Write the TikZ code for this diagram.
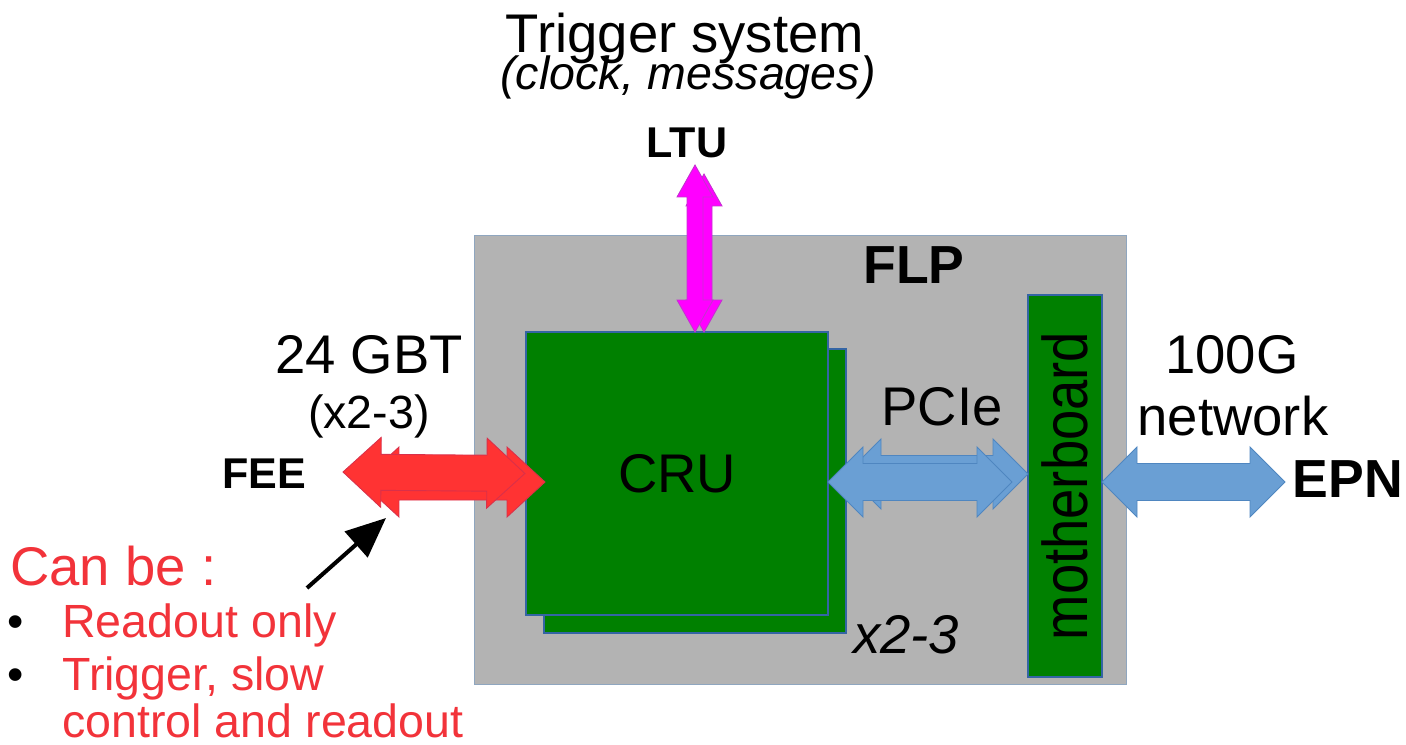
\documentclass[tikz,border=0pt]{standalone}
\usepackage{fontspec}
\setmainfont{Liberation Sans}
\usepackage{graphicx}
\usetikzlibrary{calc,arrows.meta}
\definecolor{flpgray}{HTML}{B3B3B3}
\definecolor{flpline}{HTML}{8FA6BF}
\definecolor{boardgreen}{HTML}{008000}
\definecolor{boardline}{HTML}{3465A4}
\definecolor{gbtred}{HTML}{FF3333}
\definecolor{gbtredline}{HTML}{D9304A}
\definecolor{pcieblue}{HTML}{6A9FD4}
\definecolor{pciebluel}{HTML}{4F86C0}
\definecolor{ltupink}{HTML}{FF00FF}
\definecolor{ltupinkl}{HTML}{C433D0}
\definecolor{notered}{HTML}{F2333A}
\begin{document}
\begin{tikzpicture}[
  x=0.02cm, y=-0.02cm,
  big/.style={font=\fontsize{31}{36}\selectfont, inner sep=0pt},
  bigbold/.style={font=\bfseries\fontsize{30.5}{36}\selectfont, inner sep=0pt},
  mid/.style={font=\fontsize{26.5}{31}\selectfont, inner sep=0pt},
  tag/.style={font=\bfseries\fontsize{24.5}{29}\selectfont, inner sep=0pt},
  board/.style={draw=boardline, line width=1.3pt, fill=boardgreen, inner sep=0pt},
  fat/.style args={#1/#2/#3}{to path={
    -- ($(\tikztostart)!#3!(\tikztotarget)!#2!90:(\tikztotarget)$)
    -- ($(\tikztostart)!#3!(\tikztotarget)!#1!90:(\tikztotarget)$)
    -- ($(\tikztotarget)!#3!(\tikztostart)!#1!-90:(\tikztostart)$)
    -- ($(\tikztotarget)!#3!(\tikztostart)!#2!-90:(\tikztostart)$)
    -- (\tikztotarget)
    -- ($(\tikztotarget)!#3!(\tikztostart)!#2!90:(\tikztostart)$)
    -- ($(\tikztotarget)!#3!(\tikztostart)!#1!90:(\tikztostart)$)
    -- ($(\tikztostart)!#3!(\tikztotarget)!#1!-90:(\tikztotarget)$)
    -- ($(\tikztostart)!#3!(\tikztotarget)!#2!-90:(\tikztotarget)$)
    -- cycle}},
  redarrow/.style={fat=0.36cm/0.7cm/0.76cm, fill=gbtred, draw=gbtredline, line width=0.5pt},
  bluearrow/.style={fat=0.37cm/0.7cm/0.7cm, fill=pcieblue, draw=pciebluel, line width=0.5pt},
  pinkarrow/.style={fat=0.16cm/0.36cm/0.64cm, fill=ltupink, draw=ltupinkl, line width=0.5pt}
]
\useasboundingbox (0,0) rectangle (1406,744);

\node[draw=flpline, line width=0.6pt, fill=flpgray, minimum width=13.06cm, minimum height=9cm] (flp) at (800.5,460) {};
\node[bigbold, anchor=base] (flplabel) at (914,283) {FLP};
\node[board, minimum width=6.04cm, minimum height=5.68cm] (cruback) at (695,491) {};
\node[board, big, minimum width=6.04cm, minimum height=5.66cm] (cru) at (677,473.5) {CRU};
\node[board, minimum width=1.48cm, minimum height=7.64cm] (mb) at (1065,486) {};
\node[rotate=90, anchor=base, inner sep=0pt, font=\fontsize{36}{40}\selectfont] (mblabel) at (1087,486) {\scalebox{0.86}[1]{motherboard}};
\node[big, anchor=base] (mult) at (906,653) {\itshape x2-3};

\node[big, anchor=base] (trig) at (685,52) {Trigger system};
\node[mid, anchor=base] (clock) at (688,89) {\itshape (clock, messages)};
\node[tag, anchor=base] (ltu) at (687,157) {LTU};
\node[big, anchor=base] (gbt) at (369,373) {24 GBT};
\node[mid, anchor=base] (gbtmult) at (369,428) {(x2-3)};
\node[tag, anchor=base] (fee) at (264,488) {FEE};
\node[big, anchor=base] (pcie) at (942,425) {PCIe};
\node[big, anchor=base] (net) at (1232,373) {100G};
\node[big, anchor=base] (net2) at (1233,435) {network};
\node[bigbold, anchor=base] (epn) at (1348,497) {EPN};

\coordinate (ltuback) at (704,174);
\coordinate (cruback top) at (704,332);
\coordinate (ltufront) at (695,165);
\coordinate (cru top) at (695,332);
\draw[pinkarrow] (ltuback) to (cruback top);
\draw[pinkarrow] (ltufront) to (cru top);

\coordinate (feeback) at (361,482);
\coordinate (cruback in) at (545,482);
\coordinate (feefront) at (343,472);
\draw[redarrow] (feeback) to (cruback in);
\draw[redarrow] (feefront) to (cru.west);

\coordinate (pcieback) at (846,474);
\coordinate (mb in) at (1028,474);
\coordinate (pciefront) at (828,482);
\coordinate (pcieend) at (1012,482);
\draw[bluearrow] (pcieback) to (mb in);
\draw[bluearrow] (pciefront) to (pcieend);

\coordinate (mb out) at (1102,482);
\coordinate (epnend) at (1285,482);
\draw[bluearrow] (mb out) to (epnend);

\node[big, text=notered, anchor=base west] (canbe) at (10,585) {Can be :};
\node[mid, anchor=base] (dot1) at (16,637) {\textbullet};
\node[mid, anchor=base] (dot2) at (16,690) {\textbullet};
\node[mid, text=notered, anchor=base west] (opt1) at (62,637) {Readout only};
\node[mid, text=notered, anchor=base west] (opt2) at (62,690) {Trigger, slow};
\node[mid, text=notered, anchor=base west] (opt2b) at (62,737) {control and readout};
\coordinate (notetail) at (307,588);
\coordinate (notetip) at (386,518);
\draw[line width=2.3pt, -{Triangle[length=0.8cm, width=0.68cm]}] (notetail) -- (notetip);
\end{tikzpicture}
\end{document}
